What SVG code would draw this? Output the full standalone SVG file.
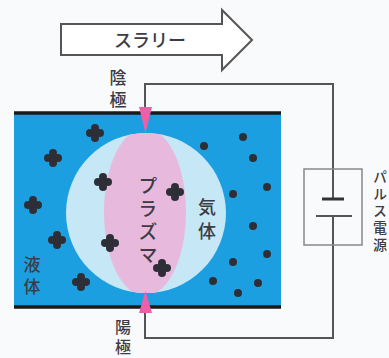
<svg xmlns="http://www.w3.org/2000/svg" width="389" height="358" viewBox="0 0 389 358">
  <style>
    .wire { fill: none; stroke: #555; stroke-width: 2; }
    .lbl { font-family: "Noto Sans CJK JP", "Noto Sans", sans-serif; fill: #3c3c44; font-weight: 500; }
    .h { text-anchor: middle; }
    .v { writing-mode: vertical-rl; text-anchor: start; }
    .dot { fill: #2e2e36; }
    .tip { fill: #ee5fa8; }
  </style>
  <defs>
    <clipPath id="gasClip">
      <circle cx="146" cy="213" r="80"/>
    </clipPath>
    <g id="cluster">
      <circle cx="-5" cy="0" r="4" class="dot"/>
      <circle cx="5" cy="0" r="4" class="dot"/>
      <circle cx="0" cy="-5" r="4" class="dot"/>
      <circle cx="0" cy="5" r="4" class="dot"/>
      <circle cx="0" cy="0" r="3" class="dot"/>
    </g>
  </defs>
  <rect width="389" height="358" fill="#f9fafc"/>

  <!-- slurry flow arrow -->
  <g id="slurry">
    <path d="M61,24 H222 V10 L252,40 L222,70 V55 H61 Z" fill="#fff" stroke="#555" stroke-width="2" stroke-linejoin="miter"/>
    <text x="150" y="47" class="lbl h" font-size="18">スラリー</text>
  </g>

  <!-- liquid vessel -->
  <g id="liquid">
    <rect x="14" y="113" width="267" height="194" fill="#1c9fe0"/>
    <line x1="14" y1="113" x2="281" y2="113" stroke="#1a1a1a" stroke-width="3.5"/>
    <line x1="14" y1="307" x2="281" y2="307" stroke="#1a1a1a" stroke-width="3.5"/>
    <text x="32" y="256" class="lbl v" font-size="17" letter-spacing="5" fill="#3d5a78">液体</text>
  </g>

  <!-- gas bubble -->
  <g id="gas">
    <circle cx="146" cy="213" r="80" fill="#c6e7f6"/>
    <text x="207" y="198" class="lbl v" font-size="18" letter-spacing="6">気体</text>
  </g>

  <!-- plasma -->
  <g id="plasma">
    <ellipse cx="145" cy="212" rx="41" ry="84" fill="#e7badd" clip-path="url(#gasClip)"/>
    <text x="148" y="176" class="lbl v" font-size="19" letter-spacing="4">プラズマ</text>
  </g>

  <!-- particles -->
  <g id="particles">
    <use href="#cluster" x="95" y="133"/>
    <use href="#cluster" x="53" y="158"/>
    <use href="#cluster" x="103" y="182"/>
    <use href="#cluster" x="33" y="205"/>
    <use href="#cluster" x="175" y="192"/>
    <use href="#cluster" x="57" y="240"/>
    <use href="#cluster" x="110" y="243"/>
    <use href="#cluster" x="81" y="282"/>
    <use href="#cluster" x="162" y="268"/>
    <circle cx="243" cy="137" r="4" class="dot"/>
    <circle cx="204" cy="146" r="4" class="dot"/>
    <circle cx="253" cy="158" r="4" class="dot"/>
    <circle cx="267" cy="187" r="4" class="dot"/>
    <circle cx="233" cy="194" r="4" class="dot"/>
    <circle cx="253" cy="226" r="4" class="dot"/>
    <circle cx="267" cy="254" r="4" class="dot"/>
    <circle cx="233" cy="262" r="4" class="dot"/>
    <circle cx="213" cy="281" r="4" class="dot"/>
    <circle cx="258" cy="283" r="4" class="dot"/>
    <circle cx="238" cy="293" r="4" class="dot"/>
  </g>

  <!-- wiring -->
  <g id="connectors">
    <path class="wire" d="M145,110 V84 H333 V199"/>
    <path class="wire" d="M145,312 V338 H333 V216"/>
  </g>

  <!-- cathode -->
  <g id="cathode">
    <path class="tip" d="M139,107 H152 L145.5,133 Z"/>
    <text x="118" y="69" class="lbl v" font-size="17" letter-spacing="5">陰極</text>
  </g>

  <!-- anode -->
  <g id="anode">
    <path class="tip" d="M139,313 H152 L145.5,291 Z"/>
    <text x="123" y="319" class="lbl v" font-size="16" letter-spacing="4">陽極</text>
  </g>

  <!-- pulse power supply -->
  <g id="pulse-supply">
    <rect x="304" y="169" width="58" height="76" fill="none" stroke="#888" stroke-width="1.5"/>
    <line x1="322" y1="199" x2="344" y2="199" stroke="#333" stroke-width="3"/>
    <line x1="316" y1="216" x2="352" y2="216" stroke="#555" stroke-width="2"/>
    <text x="380" y="170" class="lbl v" font-size="14" letter-spacing="3">パルス電源</text>
  </g>
</svg>
